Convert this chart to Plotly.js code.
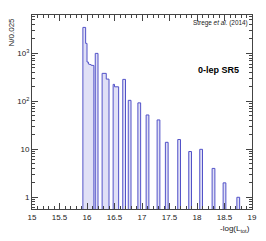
<!DOCTYPE html>
<html>
<head>
<meta charset="utf-8">
<script src="https://cdn.plot.ly/plotly-3.0.1.min.js"></script>
<style>html,body{margin:0;padding:0;background:#fff;}#chart{width:266px;height:241px;}</style>
</head>
<body>
<div id="chart"></div>
<script>
// Histogram data: left edge of each non-empty bin (bin width 0.025) and its content
const binLeft = [15.925, 15.95, 15.975, 16.0, 16.025, 16.05, 16.075, 16.1,
  16.15, 16.175,
  16.275, 16.3, 16.325, 16.35, 16.375,
  16.475, 16.5, 16.525, 16.55,
  16.65, 16.675,
  16.75, 16.775,
  16.925, 16.95,
  17.075, 17.1,
  17.275, 17.3,
  17.425, 17.45,
  17.65, 17.675,
  17.85, 17.875,
  18.05, 18.075,
  18.275, 18.3,
  18.475, 18.5,
  18.725, 18.75];
const binCount = [3480, 3480, 1616, 660, 600, 580, 565, 560,
  1000, 1000,
  383, 383, 383, 291, 291,
  226, 201, 201, 201,
  287, 287,
  105, 105,
  93, 93,
  52, 52,
  41, 41,
  14, 14,
  16, 16,
  9, 9,
  10, 10,
  4, 4,
  2, 2,
  1, 1];
const binWidth = 0.025;
const xMin = 15, xMax = 19;

const xTicks = [15, 15.5, 16, 16.5, 17, 17.5, 18, 18.5, 19];
const xTickLabels = ['15', '15.5', '16', '16.5', '17', '17.5', '18', '18.5', '19'];
const yTicks = [1, 10, 100, 1000];
const yTickLabels = ['1', '10', '10<sup>2</sup>', '10<sup>3</sup>'];

// build the full histogram and its step outline
const nBins = Math.round((xMax - xMin) / binWidth);
const full = new Array(nBins).fill(0);
binLeft.forEach((b, i) => { full[Math.round((b - xMin) / binWidth)] = binCount[i]; });
const floorVal = 0.05;
const px = [xMin], py = [floorVal];
for (let i = 0; i < nBins; i++) {
  const v = full[i] > 0 ? full[i] : floorVal;
  px.push(xMin + i * binWidth, xMin + (i + 1) * binWidth);
  py.push(v, v);
}
px.push(xMax); py.push(floorVal);

const yMinor = [];
for (let d = 0.1; d <= 10000; d *= 10) for (let k = 2; k <= 9; k++) yMinor.push(+(d * k).toPrecision(3));

const tickFont = {family: 'Liberation Sans, Arial, sans-serif', size: 8, color: '#222'};

const trace = {
  x: px, y: py, type: 'scatter', mode: 'lines',
  line: {color: '#5252c8', width: 1, shape: 'linear'},
  fill: 'toself', fillcolor: 'rgba(165,165,228,0.35)',
  hoverinfo: 'skip'
};

const layout = {
  width: 266, height: 241,
  margin: {l: 32, r: 14, t: 15, b: 32},
  paper_bgcolor: '#fff', plot_bgcolor: '#fff',
  showlegend: false,
  xaxis: {
    range: [xMin, xMax], tickvals: xTicks, ticktext: xTickLabels,
    ticks: 'inside', ticklen: 6, tickwidth: 1, tickcolor: '#444',
    minor: {ticks: 'inside', ticklen: 3, dtick: 0.1, tickcolor: '#444', showgrid: false},
    showline: true, linecolor: '#444', linewidth: 1, mirror: 'ticks',
    showgrid: false, zeroline: false, tickfont: tickFont
  },
  yaxis: {
    type: 'log', range: [-0.244, 3.80], tickvals: yTicks, ticktext: yTickLabels,
    ticks: 'inside', ticklen: 6, tickwidth: 1, tickcolor: '#444',
    minor: {ticks: 'inside', ticklen: 3, tickvals: yMinor, tickcolor: '#444', showgrid: false},
    showline: true, linecolor: '#444', linewidth: 1, mirror: 'ticks',
    showgrid: false, zeroline: false, tickfont: tickFont
  },
  annotations: [
    {text: 'Strege <i>et al.</i> (2014)', xref: 'paper', yref: 'paper', x: 0.9895, y: 0.9588,
     xanchor: 'right', yanchor: 'middle', showarrow: false,
     font: {family: 'Liberation Sans, Arial, sans-serif', size: 6.4, color: '#222'}},
    {text: '<b>0-lep SR5</b>', xref: 'paper', yref: 'paper', x: 0.7468, y: 0.7165,
     xanchor: 'left', yanchor: 'middle', showarrow: false,
     font: {family: 'Liberation Sans, Arial, sans-serif', size: 9, color: '#000'}},
    {text: '-log(L<sub>tot</sub>)', xref: 'paper', yref: 'paper', x: 1.0, y: -0.103,
     xanchor: 'right', yanchor: 'middle', showarrow: false,
     font: {family: 'Liberation Sans, Arial, sans-serif', size: 8, color: '#222'}},
    {text: 'N/0.025', xref: 'paper', yref: 'paper', x: -0.091, y: 1.0, textangle: -90,
     xanchor: 'center', yanchor: 'top', showarrow: false,
     font: {family: 'Liberation Sans, Arial, sans-serif', size: 8, color: '#222'}}
  ]
};

Plotly.newPlot('chart', [trace], layout, {staticPlot: true, displayModeBar: false});
</script>
</body>
</html>
